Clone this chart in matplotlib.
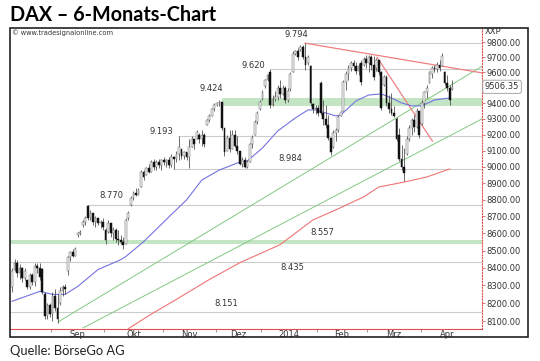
import matplotlib
matplotlib.use("Agg")
import matplotlib.pyplot as plt
import matplotlib.transforms as mtransforms
from matplotlib.patches import Rectangle
from matplotlib.ticker import FixedLocator, NullLocator
import numpy as np

# ------------------------------------------------------------------
# Data (DAX daily candles)
# ------------------------------------------------------------------

opens = [
    8290, 8390, 8430, 8370, 8400, 8340, 8330, 8290, 8360, 8320,
    8410, 8400, 8395, 8250, 8130, 8190, 8140, 8240, 8170, 8200,
    8270, 8290, 8380, 8460, 8490, 8470, 8590, 8600, 8650, 8670,
    8760, 8690, 8720, 8670, 8690, 8660, 8670, 8620, 8610, 8660,
    8600, 8620, 8570, 8560, 8550, 8540, 8690, 8770, 8810, 8840,
    8830, 8880, 8970, 8950, 8990, 8970, 9030, 9000, 9030, 9010,
    9040, 9030, 9040, 9010, 9060, 9050, 9080, 9110, 9070, 9090,
    9060, 9120, 9170, 9170, 9200, 9170, 9200, 9260, 9290, 9320,
    9360, 9390, 9400, 9410, 9240, 9100, 9180, 9110, 9200, 9130,
    9100, 9020, 9040, 9000, 9030, 9140, 9200, 9280, 9360, 9425,
    9510, 9550, 9600, 9390, 9430, 9440, 9500, 9460, 9500, 9420,
    9490, 9600, 9720, 9740, 9745, 9770, 9700, 9660, 9640, 9395,
    9360, 9370, 9530, 9340, 9300, 9260, 9180, 9120, 9210, 9230,
    9320, 9350, 9540, 9590, 9630, 9660, 9640, 9610, 9660, 9650,
    9690, 9660, 9700, 9650, 9630, 9680, 9600, 9520, 9570, 9400,
    9360, 9340, 9300, 9200, 9050, 9000, 9080, 9170, 9240, 9290,
    9250, 9350, 9270, 9400, 9470, 9530, 9590, 9630, 9620, 9650,
    9640, 9600, 9530, 9500, 9490,
]
highs = [
    8400, 8450, 8445, 8420, 8405, 8400, 8333, 8370, 8370, 8425,
    8430, 8425, 8400, 8260, 8200, 8200, 8260, 8277, 8250, 8290,
    8300, 8305, 8470, 8500, 8510, 8520, 8610, 8620, 8680, 8700,
    8770, 8740, 8720, 8700, 8690, 8680, 8690, 8630, 8680, 8660,
    8640, 8630, 8620, 8590, 8580, 8690, 8730, 8820, 8850, 8870,
    8870, 8980, 8980, 9000, 9020, 9040, 9050, 9040, 9050, 9050,
    9060, 9050, 9060, 9080, 9070, 9100, 9193, 9110, 9100, 9090,
    9170, 9190, 9170, 9230, 9210, 9230, 9210, 9300, 9330, 9370,
    9400, 9410, 9424, 9410, 9240, 9200, 9230, 9230, 9230, 9190,
    9100, 9060, 9060, 9040, 9150, 9198, 9290, 9350, 9420, 9486,
    9560, 9590, 9620, 9450, 9480, 9520, 9550, 9520, 9510, 9500,
    9600, 9740, 9750, 9760, 9780, 9782, 9794, 9715, 9650, 9400,
    9390, 9389, 9545, 9420, 9389, 9325, 9180, 9230, 9240, 9325,
    9350, 9550, 9610, 9650, 9675, 9682, 9670, 9660, 9682, 9700,
    9715, 9715, 9715, 9710, 9695, 9682, 9610, 9583, 9583, 9450,
    9466, 9383, 9310, 9245, 9135, 9115, 9190, 9260, 9305, 9325,
    9370, 9350, 9421, 9480, 9518, 9610, 9640, 9649, 9670, 9682,
    9728, 9610, 9583, 9518, 9551,
]
lows = [
    8260, 8380, 8350, 8335, 8320, 8330, 8280, 8280, 8300, 8295,
    8370, 8330, 8250, 8110, 8110, 8120, 8100, 8155, 8089, 8190,
    8240, 8250, 8360, 8440, 8460, 8470, 8580, 8590, 8640, 8650,
    8680, 8680, 8650, 8640, 8650, 8630, 8620, 8540, 8600, 8580,
    8560, 8550, 8530, 8540, 8510, 8540, 8680, 8760, 8800, 8820,
    8830, 8880, 8920, 8950, 8960, 8970, 8980, 8980, 8990, 8980,
    9010, 9000, 8990, 9000, 8984, 9030, 9040, 9050, 9050, 9040,
    8990, 9120, 9110, 9170, 9150, 9130, 9120, 9260, 9280, 9320,
    9350, 9380, 9380, 9230, 9070, 9100, 9090, 9110, 9120, 9080,
    9010, 9000, 8990, 8990, 9030, 9115, 9200, 9270, 9357, 9421,
    9500, 9545, 9370, 9380, 9415, 9420, 9435, 9455, 9400, 9410,
    9480, 9600, 9715, 9680, 9740, 9690, 9615, 9650, 9385, 9340,
    9330, 9320, 9325, 9260, 9245, 9167, 9073, 9115, 9160, 9220,
    9320, 9350, 9486, 9551, 9610, 9616, 9590, 9583, 9518, 9640,
    9630, 9600, 9616, 9551, 9610, 9583, 9357, 9510, 9383, 9340,
    9325, 9310, 9160, 9036, 8981, 8913, 9073, 9160, 9198, 9220,
    9245, 9180, 9261, 9370, 9434, 9530, 9565, 9600, 9605, 9610,
    9640, 9518, 9480, 9389, 9486,
]
closes = [
    8380, 8430, 8370, 8400, 8340, 8380, 8290, 8360, 8320, 8410,
    8400, 8350, 8260, 8130, 8190, 8140, 8240, 8170, 8110, 8270,
    8290, 8280, 8460, 8490, 8470, 8510, 8600, 8610, 8670, 8690,
    8690, 8720, 8670, 8690, 8660, 8670, 8640, 8560, 8660, 8600,
    8620, 8570, 8560, 8550, 8530, 8680, 8720, 8810, 8840, 8830,
    8860, 8970, 8940, 8990, 8970, 9030, 9000, 9030, 9010, 9040,
    9030, 9040, 9010, 9060, 9050, 9080, 9120, 9070, 9090, 9060,
    9120, 9170, 9140, 9220, 9170, 9200, 9140, 9290, 9320, 9360,
    9390, 9400, 9410, 9240, 9090, 9180, 9110, 9200, 9130, 9100,
    9020, 9040, 9000, 9030, 9140, 9180, 9280, 9340, 9410, 9470,
    9550, 9580, 9390, 9430, 9440, 9500, 9460, 9500, 9420, 9480,
    9590, 9720, 9740, 9700, 9770, 9700, 9650, 9700, 9400, 9360,
    9370, 9340, 9340, 9300, 9260, 9180, 9090, 9210, 9230, 9310,
    9345, 9540, 9590, 9630, 9660, 9640, 9610, 9640, 9540, 9690,
    9660, 9700, 9650, 9570, 9680, 9600, 9370, 9570, 9400, 9360,
    9340, 9320, 9170, 9050, 9000, 8960, 9170, 9240, 9290, 9250,
    9350, 9200, 9400, 9470, 9500, 9600, 9630, 9620, 9650, 9630,
    9710, 9530, 9500, 9420, 9506.35,
]
last_close = 9506.35

# moving averages (bar index, value)
ma_blue_idx = [0, 11, 16, 21, 26, 34, 43, 45, 52, 62, 69, 75, 82, 85, 90, 93,
               99, 105, 112, 117, 120, 124, 128, 130, 136, 141, 146, 150, 154,
               158, 162, 167, 173]
ma_blue_val = [8210, 8266, 8249, 8249, 8294, 8390, 8447, 8465, 8551, 8697,
               8799, 8919, 8981, 8999, 9030, 9036, 9117, 9223, 9306, 9357,
               9357, 9338, 9319, 9325, 9415, 9453, 9460, 9434, 9402, 9383,
               9383, 9421, 9434]
ma_red_idx = [46, 55, 65, 78, 90, 106, 119, 128, 139, 145, 155, 164, 173]
ma_red_val = [8058, 8138, 8221, 8333, 8429, 8534, 8680, 8739, 8817, 8877,
              8907, 8938, 8987]

# support / resistance levels
level_values = [9794, 9620, 9193, 8984, 8770, 8435, 8151]
level_starts = [115.8, 102, 65.6, 63.6, 29.6, -0.8, -0.8]
band_lows = [9380, 8538]
band_highs = [9434, 8562]
band_starts = [83, -0.8]

level_labels = ["9.794", "9.620", "9.424", "9.193", "8.984", "8.770",
                "8.557", "8.435", "8.151"]
label_x = [112.3, 95.3, 78.7, 58.9, 109.9, 39.3, 122.5, 110.7, 84.6]
label_y = [9849, 9646, 9498, 9219, 9049, 8823, 8608, 8399, 8195]

# trend lines ((x0, x1), (y0, y1))
green_lines = [((18.2, 185.8), (8095, 9640)), ((28.1, 185.8), (8062, 9300))]
red_lines = [((115.8, 185.8), (9794, 9597)), ((144.3, 166.2), (9700, 9160))]

# axis labels
price_ticks = [9800, 9700, 9600, 9400, 9300, 9200, 9100, 9000, 8900,
               8800, 8700, 8600, 8500, 8400, 8300, 8200, 8100]
month_starts = [16, 37, 60, 81, 99, 121, 141, 162, 183]
month_labels = ["Sep", "Okt", "Nov", "Dez", "2014", "Feb", "Mrz", "Apr"]


# ------------------------------------------------------------------
# Figure
# ------------------------------------------------------------------

W, H = 540, 361
fig = plt.figure(figsize=(W / 100, H / 100), dpi=100)
ax = fig.add_axes([10 / W, 1 - 329 / H, 472 / W, 301 / H])

x_min, x_max = -0.8, 185.8

# levels and bands
for v, s in zip(level_values, level_starts):
    ax.hlines(v, s, x_max, color="#cccccc", lw=0.8, zorder=1)
for lo, hi, s in zip(band_lows, band_highs, band_starts):
    ax.fill_between([s, x_max], lo, hi, color="#c4e5c4", lw=0, zorder=1)
for txt, x, y in zip(level_labels, label_x, label_y):
    ax.text(x, y, txt, fontsize=6, color="#333333", ha="center",
            va="center", zorder=5)

# trend lines
for (xs, ys) in green_lines:
    ax.plot(xs, ys, color="#82c882", lw=0.7, zorder=2)
for (xs, ys) in red_lines:
    ax.plot(xs, ys, color="#f08080", lw=0.9, zorder=2)

# moving averages
ax.plot(ma_blue_idx, ma_blue_val, color="#7373e0", lw=0.8, zorder=2)
ax.plot(ma_red_idx, ma_red_val, color="#f07474", lw=0.8, zorder=2)

# candles
idx = np.arange(len(closes))
o = np.array(opens, dtype=float)
c = np.array(closes, dtype=float)
ax.vlines(idx, lows, highs, color="#444444", lw=0.55, zorder=3)
up = c >= o
ax.bar(idx[up], c[up] - o[up], bottom=o[up], width=0.7, color="#f4f4f4",
       edgecolor="#666666", lw=0.35, zorder=4)
ax.bar(idx[~up], o[~up] - c[~up], bottom=c[~up], width=0.7,
       color="#111111", edgecolor="#111111", lw=0.35, zorder=4)

# axes
ax.set_yscale("log")
ax.set_ylim(8056, 9896)
ax.set_xlim(x_min, x_max)

ax.yaxis.tick_right()
ax.yaxis.set_major_locator(FixedLocator(price_ticks))
ax.yaxis.set_minor_locator(NullLocator())
ax.set_yticklabels([f"{v:.2f}" for v in price_ticks])
ax.tick_params(axis="y", which="major", length=2, width=0.6,
               color="#e06060", pad=1.5, labelsize=6, labelcolor="#333333")

month_mid = [(a + b) / 2 - 0.5 for a, b in zip(month_starts[:-1],
                                               month_starts[1:])]
ax.set_xticks(month_mid)
ax.set_xticklabels(month_labels)
ax.set_xticks([m - 0.5 for m in month_starts[:-1]], minor=True)
ax.tick_params(axis="x", which="major", length=0, pad=0.5,
               labelsize=6, labelcolor="#333333")
ax.tick_params(axis="x", which="minor", length=2, width=0.6,
               color="#888888")

for side in ["top", "left"]:
    ax.spines[side].set_visible(False)
ax.spines["right"].set_color("#e05050")
ax.spines["right"].set_linestyle(":")
ax.spines["right"].set_linewidth(0.8)
ax.spines["bottom"].set_color("#e05050")
ax.spines["bottom"].set_linewidth(0.8)

# current value box
trans = mtransforms.blended_transform_factory(ax.transAxes, ax.transData)
ax.text(1.006, last_close, f"{last_close:.2f}", transform=trans,
        fontsize=6, color="#333333", va="center", ha="left",
        bbox=dict(boxstyle="round,pad=0.25", fc="white", ec="#999999",
                  lw=0.6), clip_on=False)

# frame and texts
fig.add_artist(Rectangle((9.5 / W, 1 - 337 / H), 518.5 / W, 309 / H,
                         transform=fig.transFigure, fill=False,
                         ec="#222222", lw=1.2))
fig.text(12 / W, 1 - 33 / H, "© www.tradesignalonline.com", fontsize=4.8,
         color="#333333", va="center")
fig.text(485 / W, 1 - 32 / H, "XXP", fontsize=6, color="#333333",
         va="center")
fig.text(10 / W, 1 - 20.7 / H, "DAX – 6-Monats-Chart", fontsize=14.2,
         fontweight="bold", family="Lato", va="baseline")
fig.text(10 / W, 1 - 355 / H, "Quelle: BörseGo AG", fontsize=9.3,
         family="Lato", va="baseline", color="#222222")

fig.savefig("out.png", dpi=100)
